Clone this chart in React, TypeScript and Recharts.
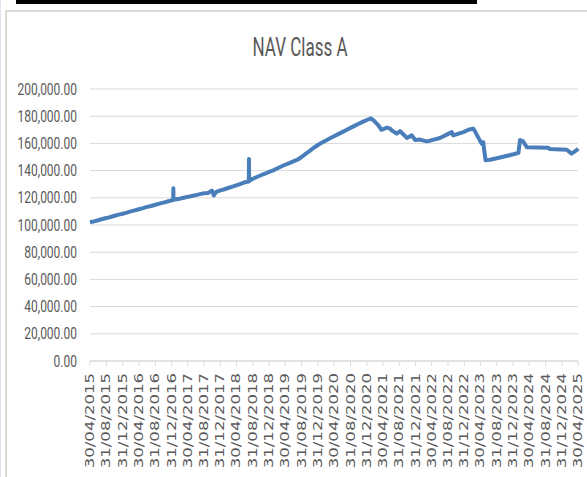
import { LineChart, Line, XAxis, YAxis, CartesianGrid } from 'recharts';

// x axis labels (Excel date axis, every 4 months)
const tickLabels = [
  '30/04/2015', '31/08/2015', '31/12/2015', '30/04/2016', '31/08/2016', '31/12/2016',
  '30/04/2017', '31/08/2017', '31/12/2017', '30/04/2018', '31/08/2018', '31/12/2018',
  '30/04/2019', '31/08/2019', '31/12/2019', '30/04/2020', '31/08/2020', '31/12/2020',
  '30/04/2021', '31/08/2021', '31/12/2021', '30/04/2022', '31/08/2022', '31/12/2022',
  '30/04/2023', '31/08/2023', '31/12/2023', '30/04/2024', '31/08/2024', '31/12/2024',
  '30/04/2025',
];

const yTicks = [0, 20000, 40000, 60000, 80000, 100000, 120000, 140000, 160000, 180000, 200000];

const navDates = [
  '30/04/2015', '31/05/2015', '30/06/2015', '31/07/2015', '31/08/2015', '30/09/2015',
  '31/10/2015', '30/11/2015', '31/12/2015', '31/01/2016', '29/02/2016', '31/03/2016',
  '30/04/2016', '31/05/2016', '30/06/2016', '31/07/2016', '31/08/2016', '30/09/2016',
  '31/10/2016', '30/11/2016', '31/12/2016', '12/01/2017', '13/01/2017', '14/01/2017',
  '28/02/2017', '31/03/2017', '30/04/2017', '31/05/2017', '30/06/2017', '31/07/2017',
  '31/08/2017', '30/09/2017', '28/10/2017', '12/11/2017', '30/11/2017', '31/12/2017',
  '31/01/2018', '28/02/2018', '31/03/2018', '30/04/2018', '31/05/2018', '30/06/2018',
  '01/08/2018', '02/08/2018', '03/08/2018', '31/08/2018', '30/09/2018', '31/10/2018',
  '30/11/2018', '31/12/2018', '31/01/2019', '28/02/2019', '31/03/2019', '30/04/2019',
  '31/05/2019', '30/06/2019', '31/07/2019', '31/08/2019', '30/09/2019', '31/10/2019',
  '30/11/2019', '31/12/2019', '31/01/2020', '29/02/2020', '31/03/2020', '30/04/2020',
  '31/05/2020', '30/06/2020', '31/07/2020', '31/08/2020', '30/09/2020', '31/10/2020',
  '30/11/2020', '31/12/2020', '31/01/2021', '20/02/2021', '28/03/2021', '20/04/2021',
  '31/05/2021', '24/06/2021', '06/07/2021', '12/08/2021', '06/09/2021', '30/09/2021',
  '27/10/2021', '03/12/2021', '28/12/2021', '02/02/2022', '24/03/2022', '18/04/2022',
  '02/07/2022', '02/09/2022', '28/09/2022', '09/10/2022', '24/12/2022', '31/01/2023',
  '07/03/2023', '20/03/2023', '27/04/2023', '09/05/2023', '21/05/2023', '08/06/2023',
  '12/07/2023', '24/09/2023', '03/01/2024', '09/02/2024', '21/02/2024', '15/03/2024',
  '12/04/2024', '20/09/2024', '02/10/2024', '05/02/2025', '13/03/2025', '20/04/2025',
  '30/04/2025',
];

const navValues = [
  102000, 102700, 103500, 104400, 105100, 105900,
  106800, 107600, 108300, 109100, 110000, 110800,
  111600, 112400, 113300, 114000, 114900, 115700,
  116500, 117300, 118100, 118400, 127000, 118500,
  119300, 120000, 120700, 121300, 122000, 122700,
  123300, 123600, 125300, 121800, 124300, 125400,
  126300, 127200, 128200, 129200, 130300, 131400,
  132000, 148500, 132400, 134000, 135300, 136600,
  137700, 139000, 140200, 141500, 143000, 144300,
  145500, 146800, 148000, 150000, 152300, 154500,
  156800, 158800, 160600, 162200, 163800, 165300,
  166800, 168300, 169900, 171400, 172900, 174400,
  175800, 177200, 178400, 177000, 173300, 170000,
  171600, 170900, 169600, 167200, 169000, 166700,
  164000, 165900, 162500, 162800, 161500, 162000,
  164000, 167000, 168300, 165900, 168300, 170000,
  170900, 169000, 162000, 159800, 161000, 147600,
  148000, 149600, 152000, 153000, 162500, 161500,
  157200, 156800, 155800, 155300, 152500, 155000,
  156200,
];

const parseDate = (s: string) => {
  const [d, m, y] = s.split('/').map(Number);
  return Date.UTC(y, m - 1, d);
};

const tickTimes = tickLabels.map(parseDate);
const labelByTime: Record<number, string> = {};
tickTimes.forEach((t, i) => (labelByTime[t] = tickLabels[i]));

const data = navDates.map((d, i) => ({ t: parseDate(d), nav: navValues[i] }));

const TEXT = '#595959';
const GRID = '#d9d9d9';

const fmt = (v: number) =>
  v.toLocaleString('en-US', { minimumFractionDigits: 2, maximumFractionDigits: 2 });

// y labels are drawn a bit stretched like the source picture
const YTick = ({ x, y, payload }: any) => (
  <g transform={`translate(${x},${y}) scale(1,1.3)`}>
    <text x={0} y={0} dy="0.36em" textAnchor="end" fill={TEXT} fontSize={12} fontFamily="Roboto">
      {fmt(payload.value)}
    </text>
  </g>
);

const XTick = ({ x, y, payload }: any) => (
  <g transform={`translate(${x},${y}) rotate(-90) scale(1.45,1)`}>
    <text x={0} y={0} textAnchor="end" dominantBaseline="central" fill={TEXT} fontSize={11.4} fontFamily="DejaVu Sans">
      {labelByTime[payload.value] ?? ''}
    </text>
  </g>
);

export default function App() {
  return (
    <div style={{ position: 'absolute', left: 0, top: 0, width: 587, height: 477, overflow: 'hidden', background: '#fff' }}>
      <div style={{ position: 'absolute', left: 0, top: 0, width: 1, height: 477, background: '#dce6f2' }} />
      <div style={{ position: 'absolute', left: 16, top: 0, width: 461, height: 4, background: '#000' }} />
      <div
        style={{
          position: 'absolute',
          left: 5,
          top: 10,
          width: 640,
          height: 520,
          borderLeft: `2px solid ${GRID}`,
          borderTop: `2px solid ${GRID}`,
        }}
      />
      <div
        style={{
          position: 'absolute',
          left: 0,
          top: 36.6,
          width: 600,
          height: 20,
          lineHeight: '20px',
          textAlign: 'center',
          fontFamily: 'Roboto',
          fontSize: 17,
          color: TEXT,
          transform: 'scaleY(1.55)',
        }}
      >
        NAV Class A
      </div>
      <div style={{ position: 'absolute', left: 0, top: 0 }}>
        <LineChart width={587} height={477} data={data} margin={{ top: 89, right: 9, bottom: 11, left: 10 }}>
          <CartesianGrid vertical={false} stroke={GRID} />
          <XAxis
            dataKey="t"
            type="number"
            domain={[tickTimes[0], tickTimes[tickTimes.length - 1]]}
            ticks={tickTimes}
            interval={0}
            height={105}
            axisLine={{ stroke: GRID }}
            tickLine={{ stroke: GRID }}
            tickSize={5}
            tickMargin={7}
            tick={<XTick />}
          />
          <YAxis
            domain={[0, 200000]}
            ticks={yTicks}
            interval={0}
            width={80}
            axisLine={false}
            tickLine={false}
            tickSize={0}
            tickMargin={13}
            tick={<YTick />}
          />
          <Line
            type="linear"
            dataKey="nav"
            stroke="#4a7ebb"
            strokeWidth={4}
            strokeLinejoin="round"
            dot={false}
            isAnimationActive={false}
          />
        </LineChart>
      </div>
    </div>
  );
}
